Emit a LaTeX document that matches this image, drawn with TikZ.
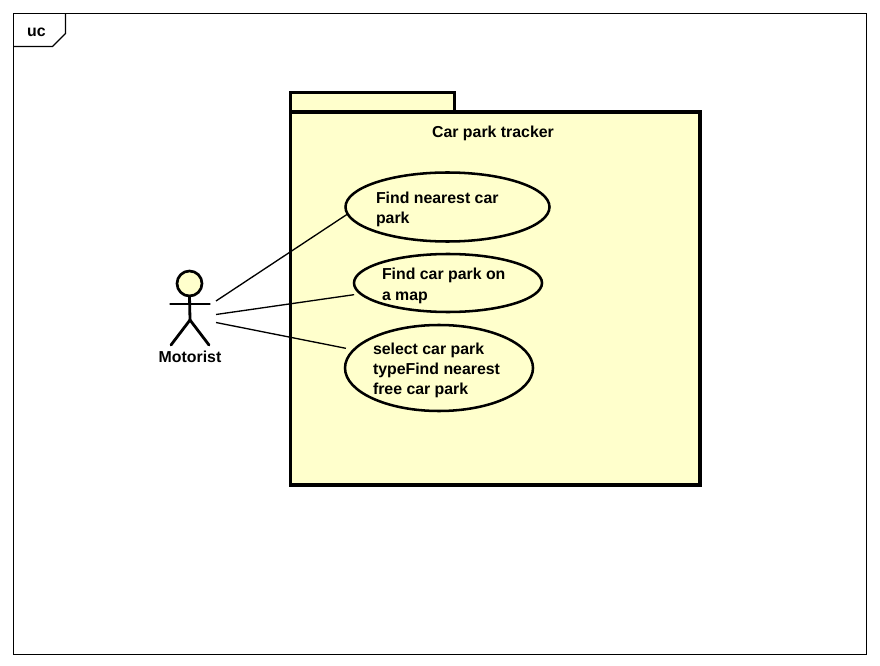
\documentclass[tikz,border=0pt]{standalone}
\usepackage{fontspec}
\setmainfont{Liberation Sans}
\usetikzlibrary{shapes.geometric}
\definecolor{pale}{HTML}{FFFFCC}
\tikzset{
  x=0.75pt,y=-0.75pt,
  frameline/.style={draw=black,line width=0.8pt},
  pkgbox/.style={draw=black,fill=pale,line width=2.3pt},
  usecase/.style={ellipse,draw=black,fill=pale,line width=1.9pt,inner sep=0pt,outer sep=0pt},
  lbl/.style={inner sep=0pt,outer sep=0pt,font=\fontsize{11.9pt}{15pt}\bfseries\selectfont,text=black},
  tlbl/.style={lbl,align=left,anchor=base west},
  assoc/.style={draw=black,line width=1pt},
  stick/.style={draw=black,line width=2.1pt,line cap=round},
}
\begin{document}
\begin{tikzpicture}
\useasboundingbox (0,0) rectangle (880,666);
\fill[white] (0,0) rectangle (880,666);
% frame
\draw[frameline] (13.5,13.5) rectangle (866.5,654.5);
\draw[frameline] (13.5,46.5) -- (52.5,46.5) -- (65.5,33.5) -- (65.5,13.5);
\node[lbl] (uc) at (36.5,32) {uc};
% package
\draw[pkgbox] (290.5,92.5) rectangle (454.5,112);
\draw[pkgbox] (290.5,112) rectangle (700,485);
\node[lbl] (title) at (493,133) {Car park tracker};
% use cases
\node[usecase,minimum width=153pt,minimum height=51.75pt] (e1) at (447.5,207) {};
\node[usecase,minimum width=141pt,minimum height=43.5pt] (e2) at (448,283) {};
\node[usecase,minimum width=141pt,minimum height=64.5pt] (e3) at (439,368) {};
\node[tlbl] (t1) at (376,224) {Find nearest car\\park};
\node[tlbl] (t2) at (382,300) {Find car park on\\a map};
\node[tlbl] (t3) at (373,394) {select car park\\typeFind nearest\\free car park};
% actor
\coordinate (hip) at (190,320);
\coordinate (armL) at (170.5,304);
\coordinate (armR) at (209.5,304);
\coordinate (legL) at (171,345);
\coordinate (legR) at (209,345);
\node[circle,draw=black,fill=pale,line width=2pt,minimum size=18.75pt,inner sep=0pt,outer sep=0pt] (head) at (189.5,283.5) {};
\draw[stick] (head.south) -- (hip);
\draw[stick] (armL) -- (armR);
\draw[stick] (legL) -- (hip) -- (legR);
\node[lbl] (motorist) at (190,357) {Motorist};
% associations
\coordinate (a1) at (216,301);
\coordinate (a2) at (216,314.5);
\coordinate (a3) at (216,322.5);
\draw[assoc] (a1) -- (e1.184.5);
\draw[assoc,shorten >=5pt] (a2) -- (e2.187.4);
\draw[assoc,shorten >=6pt] (a3) -- (e3.168.5);
\end{tikzpicture}
\end{document}
